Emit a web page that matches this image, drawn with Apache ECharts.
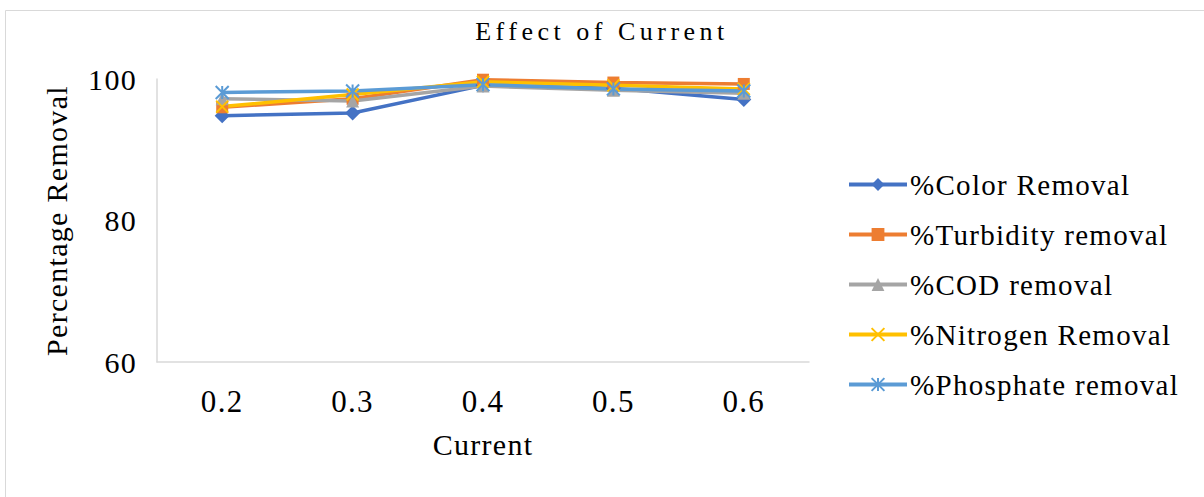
<!DOCTYPE html>
<html>
<head>
<meta charset="utf-8">
<script src="https://cdn.jsdelivr.net/npm/echarts@6/dist/echarts.min.js"></script>
<style>
  html, body { margin: 0; padding: 0; background: #fff; }
  #chart { width: 1204px; height: 497px; }
  #chart svg text { letter-spacing: 1.3px; }
</style>
</head>
<body>
<div id="chart"></div>
<script>
// Current settings (A) and removal efficiencies (%)
const currents = ['0.2', '0.3', '0.4', '0.5', '0.6'];
const colorRemoval = [94.8, 95.2, 99.1, 98.7, 97.1];
const turbidityRemoval = [96.0, 97.2, 99.9, 99.5, 99.3];
const codRemoval = [97.2, 96.9, 99.0, 98.4, 98.0];
const nitrogenRemoval = [96.1, 97.8, 99.6, 99.1, 98.6];
const phosphateRemoval = [98.1, 98.3, 99.2, 98.6, 98.3];
const seriesNames = ['%Color Removal', '%Turbidity removal', '%COD removal', '%Nitrogen Removal', '%Phosphate removal'];
const chartTitle = 'Effect of Current';

const FONT = '"Liberation Serif", "Times New Roman", serif';
const crossPath = 'path://M0,0L10,10M10,0L0,10';
const starPath = 'path://M5,0L5,10M0,0L10,10M10,0L0,10';

function lineSeries(name, data, color, symbol, size, stroked) {
  const s = {
    name: name,
    type: 'line',
    data: data,
    color: color,
    symbol: symbol,
    symbolSize: size,
    showAllSymbol: true,
    lineStyle: { width: 3.5, color: color },
    itemStyle: { color: color }
  };
  if (stroked) {
    s.itemStyle = { color: color, borderColor: color, borderWidth: 2 };
  }
  return s;
}

const chart = echarts.init(document.getElementById('chart'), null, { renderer: 'svg' });
chart.setOption({
  animation: false,
  backgroundColor: '#ffffff',
  graphic: [{
    type: 'rect',
    shape: { x: 5.5, y: 10.5, width: 1400, height: 700 },
    style: { fill: 'none', stroke: '#D9D9D9', lineWidth: 1 },
    silent: true
  }],
  title: {
    text: chartTitle,
    left: 'center',
    top: 13,
    textStyle: { fontFamily: FONT, fontWeight: 'normal', fontSize: 26, color: '#000' }
  },
  grid: { left: 157, right: 395, top: 79, bottom: 135 },
  legend: {
    orient: 'vertical',
    left: 842,
    top: 165,
    itemWidth: 58,
    itemHeight: 16,
    itemGap: 21,
    data: seriesNames,
    lineStyle: { width: 4 },
    textStyle: { fontFamily: FONT, fontSize: 29, color: '#000', padding: [0, 0, 0, -2] }
  },
  xAxis: {
    type: 'category',
    data: currents,
    boundaryGap: true,
    name: 'Current',
    nameLocation: 'middle',
    nameGap: 67,
    nameTextStyle: { fontFamily: FONT, fontSize: 30, color: '#000' },
    axisLine: { show: true, lineStyle: { color: '#D9D9D9', width: 1.5 } },
    axisTick: { show: false },
    axisLabel: { fontFamily: FONT, fontSize: 31, color: '#000', margin: 24 },
    splitLine: { show: false }
  },
  yAxis: {
    type: 'value',
    min: 60,
    max: 100,
    interval: 20,
    name: 'Percentage Removal',
    nameLocation: 'middle',
    nameGap: 86,
    nameTextStyle: { fontFamily: FONT, fontSize: 30, color: '#000' },
    axisLine: { show: true, lineStyle: { color: '#D9D9D9', width: 1.5 } },
    axisTick: { show: false },
    axisLabel: { fontFamily: FONT, fontSize: 30, color: '#000', margin: 20 },
    splitLine: { show: false }
  },
  series: [
    lineSeries(seriesNames[0], colorRemoval, '#4472C4', 'diamond', 15, false),
    lineSeries(seriesNames[1], turbidityRemoval, '#ED7D31', 'rect', 12, false),
    lineSeries(seriesNames[2], codRemoval, '#A5A5A5', 'triangle', 13, false),
    lineSeries(seriesNames[3], nitrogenRemoval, '#FFC000', crossPath, 12, true),
    lineSeries(seriesNames[4], phosphateRemoval, '#5B9BD5', starPath, 13, true)
  ]
});

// Wider tracking for the chart heading
document.querySelectorAll('#chart svg text').forEach(function (t) {
  if (t.textContent === chartTitle) {
    t.style.letterSpacing = '4.5px';
  }
});
</script>
</body>
</html>
